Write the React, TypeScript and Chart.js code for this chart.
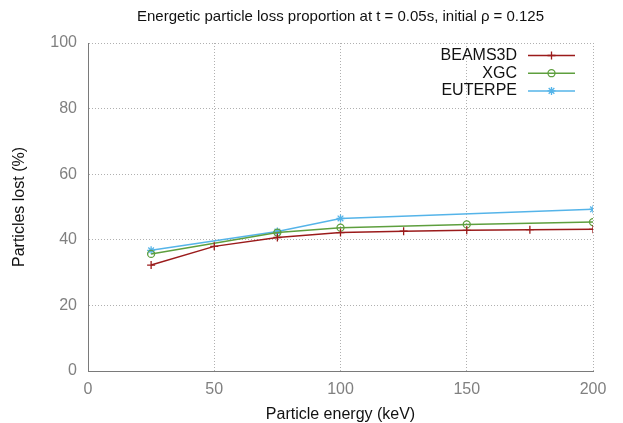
import React, { useEffect, useRef } from 'react';
import { Chart, registerables } from 'chart.js';

Chart.register(...registerables);

const TITLE = 'Energetic particle loss proportion at t = 0.05s, initial ρ = 0.125';
const X_TITLE = 'Particle energy (keV)';
const Y_TITLE = 'Particles lost (%)';

const seriesLabels = ['BEAMS3D', 'XGC', 'EUTERPE'];
const beamsEnergy = [25, 50, 75, 100, 125, 150, 175, 200];
const beamsLoss = [32.3, 38.0, 40.7, 42.2, 42.6, 42.9, 43.1, 43.2];
const xgcEnergy = [25, 75, 100, 150, 200];
const xgcLoss = [35.7, 42.2, 43.7, 44.7, 45.4];
const euterpeEnergy = [25, 75, 100, 200];
const euterpeLoss = [36.8, 42.5, 46.5, 49.3];
const xTicks = [0, 50, 100, 150, 200];
const yTicks = [0, 20, 40, 60, 80, 100];

const COLORS = ['#9b1b1b', '#5e9f3e', '#55b4e9'];
const STYLES = ['cross', 'circle', 'star'];
const FONT = "'Liberation Sans', Arial, Helvetica, sans-serif";

function toPoints(xs: number[], ys: number[]) {
  return xs.map((x, i) => ({ x, y: ys[i] }));
}

function drawMarker(ctx: CanvasRenderingContext2D, style: string, x: number, y: number, r: number) {
  ctx.beginPath();
  if (style === 'cross') {
    ctx.moveTo(x - r, y); ctx.lineTo(x + r, y);
    ctx.moveTo(x, y - r); ctx.lineTo(x, y + r);
  } else if (style === 'circle') {
    ctx.arc(x, y, r, 0, Math.PI * 2);
  } else {
    ctx.moveTo(x - r, y); ctx.lineTo(x + r, y);
    ctx.moveTo(x, y - r); ctx.lineTo(x, y + r);
    const d = r * 0.707;
    ctx.moveTo(x - d, y - d); ctx.lineTo(x + d, y + d);
    ctx.moveTo(x - d, y + d); ctx.lineTo(x + d, y - d);
  }
  ctx.stroke();
}

const decorPlugin = {
  id: 'decor',
  afterDatasetsDraw(chart: any) {
    const ctx: CanvasRenderingContext2D = chart.ctx;
    const area = chart.chartArea;
    ctx.save();
    // legend
    ctx.font = `16px ${FONT}`;
    ctx.textAlign = 'right';
    ctx.textBaseline = 'middle';
    chart.data.datasets.forEach((ds: any, i: number) => {
      const y = area.top + 12.5 + i * 17.7;
      ctx.fillStyle = '#111';
      ctx.fillText(ds.label, area.right - 76, y);
      ctx.strokeStyle = ds.borderColor;
      ctx.lineWidth = 1.5;
      ctx.beginPath();
      ctx.moveTo(area.right - 65, y);
      ctx.lineTo(area.right - 18, y);
      ctx.stroke();
      ctx.lineWidth = 1.3;
      drawMarker(ctx, STYLES[i], area.right - 41.5, y, STYLES[i] === 'circle' ? 3.5 : 4);
    });
    // title
    ctx.font = `15px ${FONT}`;
    ctx.textAlign = 'center';
    ctx.fillStyle = '#111';
    ctx.fillText(TITLE, (area.left + area.right) / 2, 17);
    ctx.restore();
  },
};

export default function App() {
  const ref = useRef<HTMLCanvasElement | null>(null);
  useEffect(() => {
    if (!ref.current) return;
    const datasets = [
      toPoints(beamsEnergy, beamsLoss),
      toPoints(xgcEnergy, xgcLoss),
      toPoints(euterpeEnergy, euterpeLoss),
    ].map((data, i) => ({
      label: seriesLabels[i],
      data,
      showLine: true,
      borderColor: COLORS[i],
      backgroundColor: 'rgba(0,0,0,0)',
      pointBorderColor: COLORS[i],
      pointBackgroundColor: 'rgba(0,0,0,0)',
      borderWidth: 1.5,
      pointBorderWidth: 1.3,
      pointStyle: STYLES[i],
      pointRadius: STYLES[i] === 'circle' ? 3.5 : 4,
      tension: 0,
    }));
    const gridOpts = {
      color: '#b0b0b0',
      lineWidth: 1,
      drawTicks: false,
    };
    const chart = new Chart(ref.current, {
      type: 'scatter',
      data: { datasets },
      plugins: [decorPlugin],
      options: {
        animation: false,
        responsive: false,
        layout: { padding: { top: 43, right: 30, left: 0, bottom: 0 } },
        plugins: { legend: { display: false }, title: { display: false }, tooltip: { enabled: false } },
        scales: {
          x: {
            type: 'linear',
            min: xTicks[0],
            max: xTicks[xTicks.length - 1],
            afterBuildTicks: (s: any) => { s.ticks = xTicks.map((v) => ({ value: v })); },
            afterFit: (s: any) => { s.height = 52; },
            grid: gridOpts,
            border: { display: true, color: '#7a7a7a', width: 1, dash: [1, 2] },
            ticks: { color: '#808080', font: { family: FONT, size: 16 }, padding: 9 },
            title: { display: true, text: X_TITLE, color: '#111', font: { family: FONT, size: 16, lineHeight: 1 }, padding: { top: 0, bottom: 0 } },
          },
          y: {
            type: 'linear',
            min: yTicks[0],
            max: yTicks[yTicks.length - 1],
            afterBuildTicks: (s: any) => { s.ticks = yTicks.map((v) => ({ value: v })); },
            afterFit: (s: any) => { s.width = 88; },
            grid: gridOpts,
            border: { display: true, color: '#7a7a7a', width: 1, dash: [1, 2] },
            ticks: { color: '#808080', font: { family: FONT, size: 16 }, padding: 11 },
            title: { display: true, text: Y_TITLE, color: '#111', font: { family: FONT, size: 16, lineHeight: 1 }, padding: { top: 12, bottom: 0 } },
          },
        },
      } as any,
    });
    return () => chart.destroy();
  }, []);
  return (
    <div style={{ position: 'absolute', left: 0, top: 0, width: 623, height: 423, background: '#fff' }}>
      <canvas ref={ref} width={623} height={423} />
    </div>
  );
}
